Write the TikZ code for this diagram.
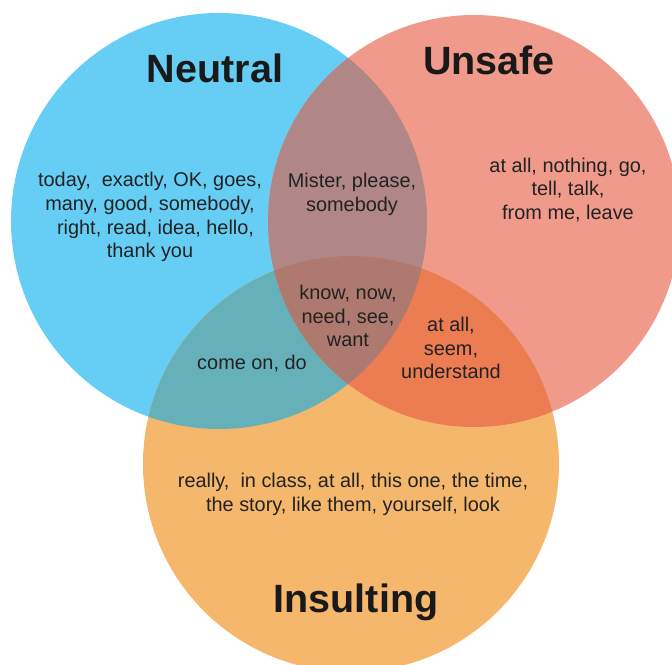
\documentclass[tikz,border=0pt]{standalone}
\usepackage{fontspec}
\setmainfont{Liberation Sans}
\usepackage{xcolor}
\usetikzlibrary{positioning}
\definecolor{neutralbg}{RGB}{102,206,245}
\definecolor{unsafebg}{RGB}{240,154,139}
\definecolor{insultbg}{RGB}{245,183,107}
\definecolor{nubg}{RGB}{176,134,134}
\definecolor{nibg}{RGB}{102,177,185}
\definecolor{uibg}{RGB}{236,125,82}
\definecolor{allbg}{RGB}{174,122,111}
\definecolor{wordcol}{RGB}{34,34,34}

\begin{document}
\begin{tikzpicture}[
  x=1pt, y=-1pt,
  title/.style={font=\fontsize{39.5}{44}\selectfont\bfseries,text=black!90,inner sep=0pt},
  words/.style={font=\fontsize{19.9}{23.8}\selectfont,text=wordcol,align=center,inner sep=0pt}
]
  \useasboundingbox (0,0) rectangle (672,664);

  % circle centres
  \coordinate (cn) at (219,221);
  \coordinate (cu) at (474,221);
  \coordinate (ci) at (351,464);
  \def\rn{208}
  \def\ru{206}
  \def\ri{208}

  % sets
  \fill[neutralbg] (cn) circle (\rn);
  \fill[unsafebg] (cu) circle (\ru);
  \fill[insultbg] (ci) circle (\ri);

  % overlaps
  \begin{scope}
    \clip (cn) circle (\rn);
    \fill[nubg] (cu) circle (\ru);
    \fill[nibg] (ci) circle (\ri);
  \end{scope}
  \begin{scope}
    \clip (cu) circle (\ru);
    \fill[uibg] (ci) circle (\ri);
    \clip (ci) circle (\ri);
    \fill[allbg] (cn) circle (\rn);
  \end{scope}

  % titles
  \node[title] (neutral) at (215,68) {Neutral};
  \node[title] (unsafe) at (489,60) {Unsafe};
  \node[title] (insulting) at (356,602) {Insulting};

  % words
  \node[words] (wn) at (150,217) {today,\ \ exactly, OK, goes,\\ many, good, somebody,\\ \ \ right, read, idea, hello,\\ thank you};
  \node[words] (wnu) at (352,194) {Mister, please,\\ somebody};
  \node[words] (wu) at (568,190) {at all, nothing, go,\\ tell, talk,\\ from me, leave};
  \node[words] (wall) at (348,316) {know, now,\\ need, see,\\ want};
  \node[words] (wui) at (451,348) {at all,\\ seem,\\ understand};
  \node[words] (wni) at (252,364) {come on, do};
  \node[words] (wi) at (353,494) {really,\ \ in class, at all, this one, the time,\\ the story, like them, yourself, look};
\end{tikzpicture}
\end{document}
